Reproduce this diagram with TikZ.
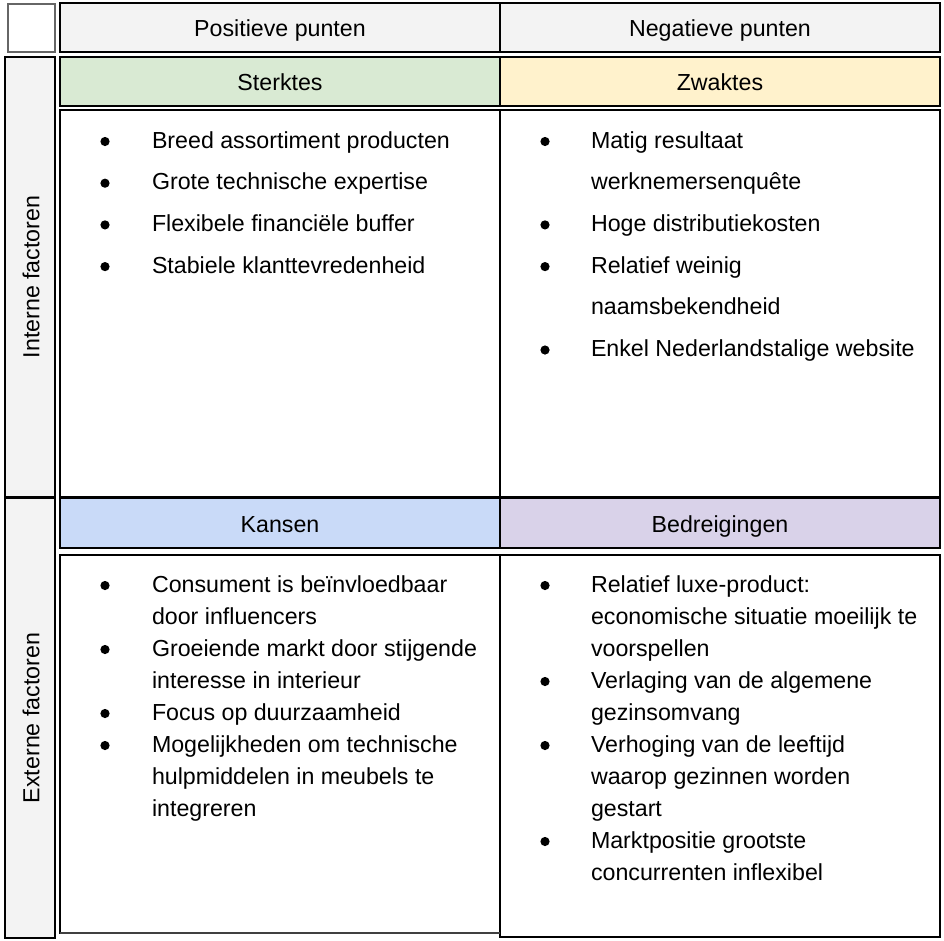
\documentclass[tikz,border=0pt]{standalone}
\usepackage{fontspec}
\setmainfont{Liberation Sans}
\definecolor{hdrgray}{HTML}{F3F3F3}
\definecolor{sgreen}{HTML}{D9EAD3}
\definecolor{wyellow}{HTML}{FFF2CC}
\definecolor{kblue}{HTML}{C9DAF8}
\definecolor{bpurple}{HTML}{D9D2E9}
\newcommand\txtline[4]{\node[txt] (#1) at (#2,#3) {#4};}
\newcommand\bulletdot[2]{\fill (#1,#2) circle (4.6);}
\begin{document}
\begin{tikzpicture}[x=1pt,y=-1pt,
  every node/.style={inner sep=0pt,outer sep=0pt},
  cellbox/.style={draw=black,line width=1.3pt,fill=white},
  headbox/.style={draw=black,line width=2.8pt},
  headtxt/.style={anchor=base,font=\fontsize{23.2}{27}\selectfont},
  txt/.style={anchor=base west,font=\fontsize{23.2}{27}\selectfont},
  sidetxt/.style={rotate=90,font=\fontsize{23.2}{27}\selectfont}]
\useasboundingbox (0,0) rectangle (944,940);
% content boxes
\node[cellbox,minimum width=440pt,minimum height=387pt] (topL) at (280,303.5) {};
\node[cellbox,minimum width=440pt,minimum height=387pt] (topR) at (720,303.5) {};
\node[cellbox,minimum width=440pt,minimum height=378pt] (botL) at (280,744) {};
\node[cellbox,minimum width=440pt,minimum height=382pt] (botR) at (720,746) {};
\draw[line width=2.5pt,black!75] (botL.south west) -- (botL.south east);
% corner
\node[draw=black!60,line width=1.6pt,fill=white,minimum width=47pt,minimum height=48pt] (corner) at (31.5,28) {};
% side columns
\node[headbox,fill=hdrgray,minimum width=50pt,minimum height=440pt] (intern) at (30,277) {};
\node[headbox,fill=hdrgray,minimum width=50pt,minimum height=440pt] (extern) at (30,718) {};
\node[sidetxt] (interntxt) at (31,277) {Interne factoren};
\node[sidetxt] (externtxt) at (31,718) {Externe factoren};
% headers
\node[headbox,fill=hdrgray,minimum width=440pt,minimum height=49pt] (pos) at (280,27.5) {};
\node[headbox,fill=hdrgray,minimum width=440pt,minimum height=49pt] (neg) at (720,27.5) {};
\node[headbox,fill=sgreen,minimum width=440pt,minimum height=49pt] (sterk) at (280,81.5) {};
\node[headbox,fill=wyellow,minimum width=440pt,minimum height=49pt] (zwak) at (720,81.5) {};
\node[headbox,fill=kblue,minimum width=440pt,minimum height=50pt] (kans) at (280,523) {};
\node[headbox,fill=bpurple,minimum width=440pt,minimum height=50pt] (bedr) at (720,523) {};
\node[headtxt] (postxt) at (280,36.3) {Positieve punten};
\node[headtxt] (negtxt) at (720,36.3) {Negatieve punten};
\node[headtxt] (sterktxt) at (280,90.3) {Sterktes};
\node[headtxt] (zwaktxt) at (720,90.3) {Zwaktes};
\node[headtxt] (kanstxt) at (280,532.3) {Kansen};
\node[headtxt] (bedrtxt) at (720,532.3) {Bedreigingen};
% top left
\bulletdot{105}{141.5}\txtline{tl1}{152}{148}{Breed assortiment producten}
\bulletdot{105}{183.2}\txtline{tl2}{152}{189.7}{Grote technische expertise}
\bulletdot{105}{224.9}\txtline{tl3}{152}{231.4}{Flexibele financiële buffer}
\bulletdot{105}{266.6}\txtline{tl4}{152}{273.1}{Stabiele klanttevredenheid}
% top right
\bulletdot{545}{141.5}\txtline{tr1}{591}{148}{Matig resultaat}
\txtline{tr2}{591}{189.7}{werknemersenquête}
\bulletdot{545}{224.9}\txtline{tr3}{591}{231.4}{Hoge distributiekosten}
\bulletdot{545}{266.6}\txtline{tr4}{591}{273.1}{Relatief weinig}
\txtline{tr5}{591}{314.8}{naamsbekendheid}
\bulletdot{545}{350}\txtline{tr6}{591}{356.5}{Enkel Nederlandstalige website}
% bottom left
\bulletdot{105}{585.5}\txtline{bl1}{152}{592}{Consument is beïnvloedbaar}
\txtline{bl2}{152}{624}{door influencers}
\bulletdot{105}{649.5}\txtline{bl3}{152}{656}{Groeiende markt door stijgende}
\txtline{bl4}{152}{688}{interesse in interieur}
\bulletdot{105}{713.5}\txtline{bl5}{152}{720}{Focus op duurzaamheid}
\bulletdot{105}{745.5}\txtline{bl6}{152}{752}{Mogelijkheden om technische}
\txtline{bl7}{152}{784}{hulpmiddelen in meubels te}
\txtline{bl8}{152}{816}{integreren}
% bottom right
\bulletdot{545}{585.5}\txtline{br1}{591}{592}{Relatief luxe-product:}
\txtline{br2}{591}{624}{economische situatie moeilijk te}
\txtline{br3}{591}{656}{voorspellen}
\bulletdot{545}{681.5}\txtline{br4}{591}{688}{Verlaging van de algemene}
\txtline{br5}{591}{720}{gezinsomvang}
\bulletdot{545}{745.5}\txtline{br6}{591}{752}{Verhoging van de leeftijd}
\txtline{br7}{591}{784}{waarop gezinnen worden}
\txtline{br8}{591}{816}{gestart}
\bulletdot{545}{841.5}\txtline{br9}{591}{848}{Marktpositie grootste}
\txtline{br10}{591}{880}{concurrenten inflexibel}
\end{tikzpicture}
\end{document}
